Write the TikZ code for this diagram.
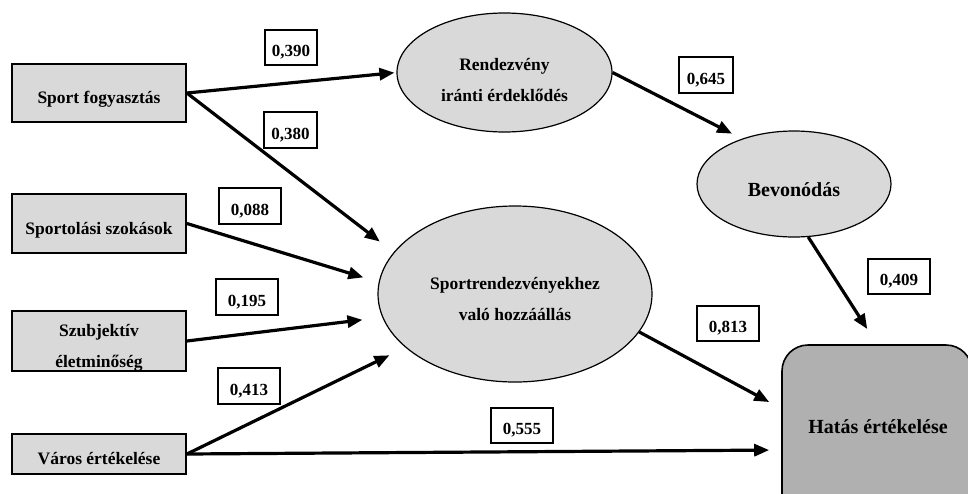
\documentclass[tikz,border=0pt]{standalone}
\usepackage{fontspec}
\setmainfont{Liberation Serif}
\usetikzlibrary{arrows.meta,shapes.geometric}
\definecolor{lgray}{HTML}{D9D9D9}
\definecolor{dgray}{HTML}{B0B0B0}
\newcommand\dnone[1]{\raisebox{-10.5pt}[0pt][0pt]{#1}}
\newcommand\dnnum[1]{\raisebox{-9pt}[0pt][0pt]{#1}}
\newcommand\dntwo[2][-9pt]{\raisebox{#1}[0pt][0pt]{\begin{tabular}{@{}c@{}}#2\end{tabular}}}
\begin{document}
\begin{tikzpicture}[x=1pt,y=-1pt,
  inbox/.style={draw, line width=1.8pt, fill=lgray, minimum width=174pt, inner sep=0pt, font=\fontsize{17.5}{31}\bfseries},
  ell/.style={ellipse, draw, line width=1.2pt, fill=lgray, inner sep=0pt, font=\fontsize{17.5}{31}\bfseries},
  coef/.style={draw, line width=1.3pt, fill=white, inner sep=0pt, minimum height=35pt, font=\fontsize{17}{20}\bfseries},
  arr/.style={line width=3.2pt, -{Triangle[length=15pt,width=12pt]}}]
\useasboundingbox (0,0) rectangle (968,493);
\clip (0,0) rectangle (968,493);
% input boxes
\node[inbox, minimum height=58pt] (sport) at (99,93) {\dnone{Sport fogyasztás}};
\node[inbox, minimum height=59pt] (szokas) at (99,223.5) {\dnone{Sportolási szokások}};
\node[inbox, minimum height=60pt] (szubj) at (99,341) {\dntwo{Szubjektív\\életminőség}};
\node[inbox, minimum height=40pt] (varos) at (99,454) {\dnone{Város értékelése}};
% ellipses
\node[ell, minimum width=215pt, minimum height=119pt] (rend) at (504.5,72.5) {\dntwo[-12pt]{Rendezvény\\iránti érdeklődés}};
\node[ell, minimum width=194pt, minimum height=106pt, font=\fontsize{20}{24}\bfseries] (bev) at (794,184) {\raisebox{-12.5pt}[0pt][0pt]{Bevonódás}};
\node[ell, minimum width=274pt, minimum height=176pt] (sportrend) at (515,294) {\dntwo{Sportrendezvényekhez\\való hozzáállás}};
% outcome (runs past the lower and right edges)
\node[draw, line width=1.6pt, fill=dgray, rounded corners=26pt, minimum width=190pt, minimum height=180pt, inner sep=0pt] (hatas) at (877,435) {};
\node[font=\fontsize{20}{24}\bfseries] (hatastext) at (878,427) {Hatás értékelése};
% arrows
\draw[arr, shorten >=2pt] (sport.east) -- (rend.west);
\draw[arr, shorten >=17.5pt] (sport.east) -- (sportrend.161);
\draw[arr, shorten >=16pt] (szokas.east) -- (sportrend.175);
\draw[arr, shorten >=20pt] (szubj.east) -- (sportrend.190);
\draw[arr, shorten >=17.7pt] (varos.east) -- (sportrend.206);
\draw[arr, shorten >=12pt] (varos.east) -- ([yshift=-15pt]hatas.west);
\draw[arr, shorten >=13.6pt] (sportrend.-17) -- ([yshift=26.5pt]hatas.west);
\draw[arr, shorten >=18pt] (bev.-75) -- (hatas.north);
\draw[arr, shorten >=11pt] (rend.east) -- (bev.139);
% coefficients
\node[coef, minimum width=52pt] (c390) at (291,47.5) {\dnnum{0,390}};
\node[coef, minimum width=53pt, minimum height=36pt] (c380) at (290.5,130) {\dnnum{0,380}};
\node[coef, minimum width=62pt, minimum height=36pt] (c088) at (250,206) {\dnnum{0,088}};
\node[coef, minimum width=62pt, minimum height=36pt] (c195) at (247,297) {\dnnum{0,195}};
\node[coef, minimum width=62pt, minimum height=36pt] (c413) at (249,386) {\dnnum{0,413}};
\node[coef, minimum width=62pt] (c555) at (522,425.5) {\dnnum{0,555}};
\node[coef, minimum width=62pt] (c813) at (728,323.5) {\dnnum{0,813}};
\node[coef, minimum width=62pt] (c409) at (899,276.5) {\dnnum{0,409}};
\node[coef, minimum width=54pt, minimum height=36pt] (c645) at (706,75) {\dnnum{0,645}};
\end{tikzpicture}
\end{document}
